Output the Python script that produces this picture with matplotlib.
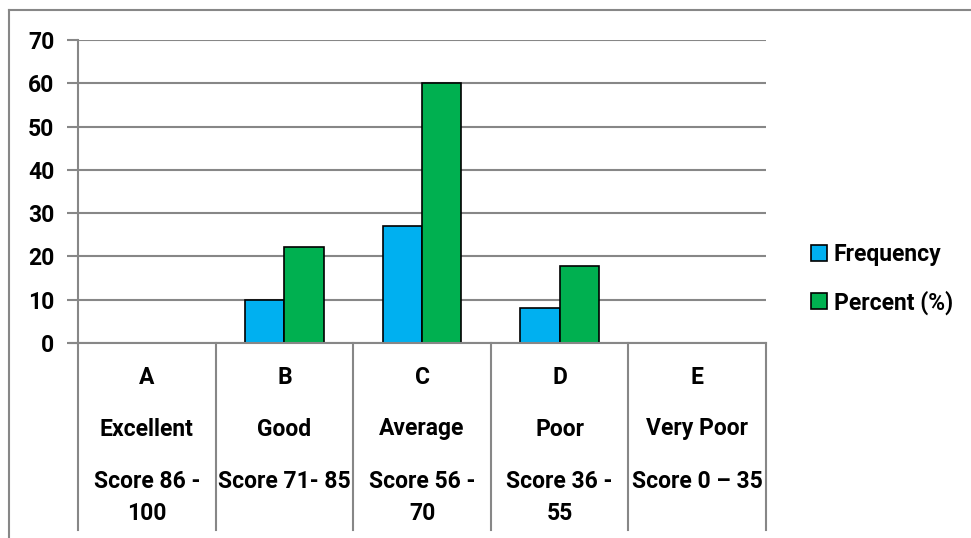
import numpy as np
import matplotlib.pyplot as plt
from matplotlib.lines import Line2D

# Datos del gráfico: categorías en tres niveles y dos series
letters = ["A", "B", "C", "D", "E"]
grades = ["Excellent", "Good", "Average", "Poor", "Very Poor"]
scores = ["Score 86 -\n100", "Score 71- 85", "Score 56 -\n70", "Score 36 -\n55", "Score 0 – 35"]
frequency = [0, 10, 27, 8, 0]
percent = [0, 22.2, 60, 17.8, 0]

blue = "#00B0F0"
green = "#00B050"
grid_col = "#878787"

plt.rcParams["font.family"] = ["Roboto", "DejaVu Sans"]
plt.rcParams["font.weight"] = "bold"
fs = 16.5

fig = plt.figure(figsize=(9.71, 5.38), dpi=100)
W, H = 971, 538
x0, x1, ytop, ybase = 78, 766, 40, 343
ax = fig.add_axes([x0 / W, 1 - ybase / H, (x1 - x0) / W, (ybase - ytop) / H])

x = np.arange(len(letters))
bw = 0.2857
ax.bar(x - bw / 2, frequency, bw, color=blue, edgecolor="black", linewidth=1.2,
       label="Frequency", zorder=3)
ax.bar(x + bw / 2, percent, bw, color=green, edgecolor="black", linewidth=1.2,
       label="Percent (%)", zorder=3)

ax.set_xlim(-0.5, len(letters) - 0.5)
ax.set_ylim(0, 70)
ax.set_yticks(np.arange(0, 71, 10))
ax.yaxis.grid(True, color=grid_col, linewidth=1.5)
ax.set_axisbelow(True)
for s in ["top", "right", "bottom"]:
    ax.spines[s].set_visible(False)
ax.spines["left"].set_color(grid_col)
ax.spines["left"].set_linewidth(1.5)
ax.tick_params(axis="y", length=8, width=1.5, color=grid_col, labelsize=fs, pad=9)
ax.set_xticks([])
for lab in ax.get_yticklabels():
    lab.set_fontweight("bold")

# línea del cero que sobresale a la izquierda
ax.plot([-0.5 - 8 / 137.6, len(letters) - 0.5], [0, 0], color=grid_col, lw=1.5,
        clip_on=False, zorder=4)

# separadores de categorías y etiquetas en tres niveles
trans = ax.get_xaxis_transform()
px = 1 / (ybase - ytop)
for b in np.arange(-0.5, len(letters), 1.0):
    ax.add_line(Line2D([b, b], [0, -(530 - ybase) * px], color=grid_col, lw=1.5,
                       transform=trans, clip_on=False))
for i in range(len(letters)):
    ax.text(i, -(378 - ybase) * px, letters[i], transform=trans, ha="center",
            va="center", fontsize=fs, fontweight="bold")
    ax.text(i, -(429 - ybase) * px, grades[i], transform=trans, ha="center",
            va="center", fontsize=fs, fontweight="bold")
    for k, line in enumerate(scores[i].split("\n")):
        ax.text(i, -(482 + 32 * k - ybase) * px, line, transform=trans,
                ha="center", va="center", fontsize=fs, fontweight="bold")

# leyenda a la derecha
leg = fig.legend(loc="center left", bbox_to_anchor=(790 / W, 1 - 279 / H),
                 frameon=False, fontsize=fs, handlelength=0.7, handleheight=0.7,
                 handletextpad=0.3, labelspacing=1.05)
for t in leg.get_texts():
    t.set_fontweight("bold")
for h in leg.legend_handles:
    h.set_edgecolor("black")

# borde del área del gráfico
fig.add_artist(Line2D([9 / W, 9 / W], [0, 1 - 10 / H], color=grid_col, lw=1.5))
fig.add_artist(Line2D([9 / W, 1], [1 - 10 / H, 1 - 10 / H], color=grid_col, lw=1.5))

fig.savefig("out.png", dpi=100)
